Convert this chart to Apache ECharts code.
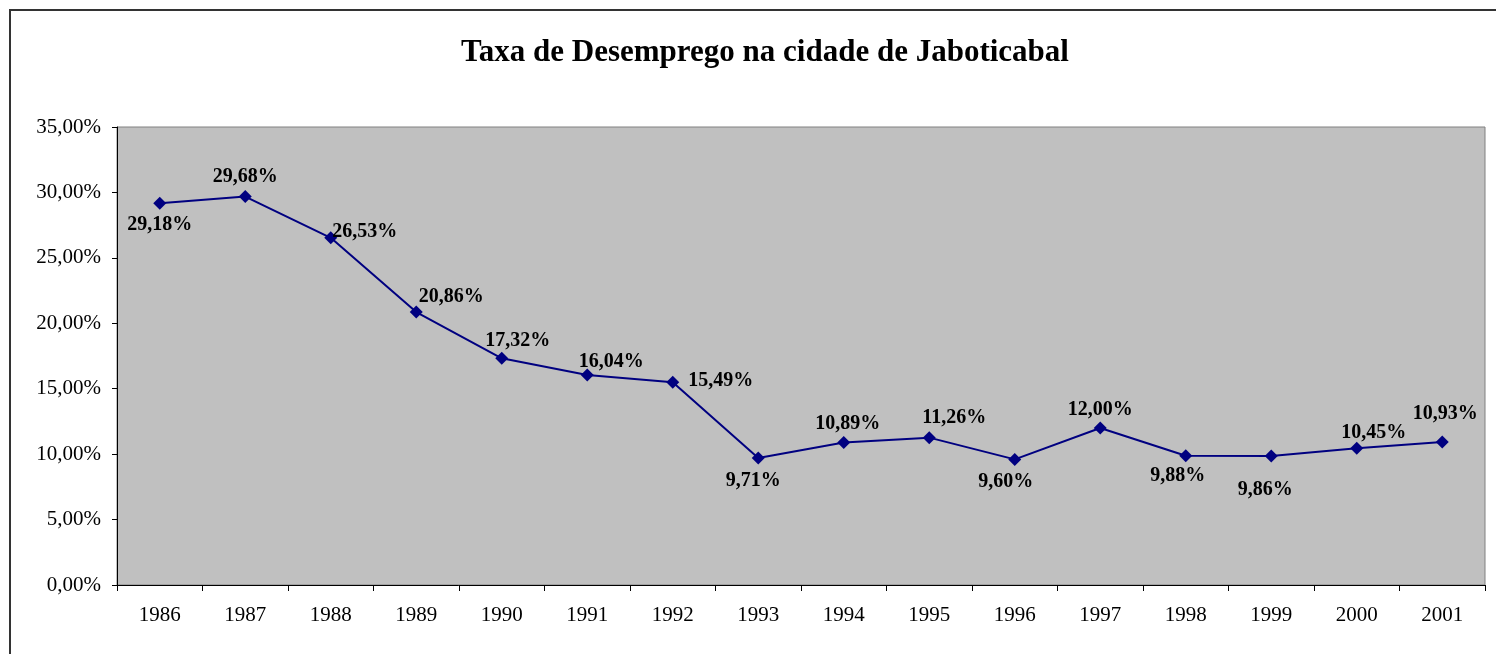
<!DOCTYPE html>
<html>
<head>
<meta charset="UTF-8">
<title>Taxa de Desemprego</title>
<script src="https://cdn.jsdelivr.net/npm/echarts@6/dist/echarts.min.js"></script>
<style>
  html, body { margin: 0; padding: 0; background: #fff; }
  #main { width: 1496px; height: 654px; }
</style>
</head>
<body>
<div id="main"></div>
<script>
// dados
var anos = ['1986', '1987', '1988', '1989', '1990', '1991', '1992', '1993',
            '1994', '1995', '1996', '1997', '1998', '1999', '2000', '2001'];
var taxas = [29.18, 29.68, 26.53, 20.86, 17.32, 16.04, 15.49, 9.71,
             10.89, 11.26, 9.60, 12.00, 9.88, 9.86, 10.45, 10.93];
var yTicks = [0, 5, 10, 15, 20, 25, 30, 35];

// deslocamento de cada rótulo em relação ao ponto
var labelOffsets = [
  [0, 22], [0, -20], [34, -6], [35, -15], [16, -18], [24, -13], [48, -1], [-5, 23],
  [4, -19], [25, -20], [-9, 22], [0, -18], [-8, 20], [-6, 34], [17, -15], [3, -28]
];

function fmt(v) {
  return v.toFixed(2).replace('.', ',') + '%';
}

var serif = '"Liberation Serif", "Times New Roman", serif';

var seriesData = taxas.map(function (v, i) {
  return {
    value: v,
    label: { offset: labelOffsets[i] }
  };
});

var myChart = echarts.init(document.getElementById('main'));
myChart.setOption({
  animation: false,
  backgroundColor: '#fff',
  title: {
    text: 'Taxa de Desemprego na cidade de Jaboticabal',
    left: 456,
    top: 32,
    textStyle: { fontFamily: serif, fontSize: 31, fontWeight: 'bold', color: '#000' }
  },
  graphic: [{
    type: 'rect',
    shape: { x: 10, y: 10, width: 1500, height: 700 },
    style: { fill: 'none', stroke: '#333', lineWidth: 2 },
    silent: true
  }],
  grid: {
    left: 117, right: 11, top: 127, bottom: 69,
    show: true,
    backgroundColor: '#C0C0C0',
    borderColor: '#808080',
    borderWidth: 1
  },
  xAxis: {
    type: 'category',
    data: anos,
    boundaryGap: true,
    axisLine: { lineStyle: { color: '#000', width: 1 } },
    axisTick: { show: true, length: 6, lineStyle: { color: '#000' } },
    axisLabel: { fontFamily: serif, fontSize: 21, color: '#000', margin: 20 }
  },
  yAxis: {
    type: 'value',
    min: 0, max: 35, interval: 5,
    axisLine: { show: true, lineStyle: { color: '#000', width: 1 } },
    axisTick: { show: true, length: 5, lineStyle: { color: '#000' } },
    splitLine: { show: false },
    axisLabel: {
      fontFamily: serif, fontSize: 21, color: '#000', margin: 16,
      formatter: function (v) { return fmt(v); }
    }
  },
  series: [{
    type: 'line',
    data: seriesData,
    symbol: 'diamond',
    symbolSize: 13,
    lineStyle: { color: '#000080', width: 2 },
    itemStyle: { color: '#000080' },
    label: {
      show: true,
      position: 'inside',
      fontFamily: serif,
      fontSize: 20,
      fontWeight: 'bold',
      color: '#000',
      formatter: function (p) { return fmt(p.value); }
    }
  }]
});
</script>
</body>
</html>
